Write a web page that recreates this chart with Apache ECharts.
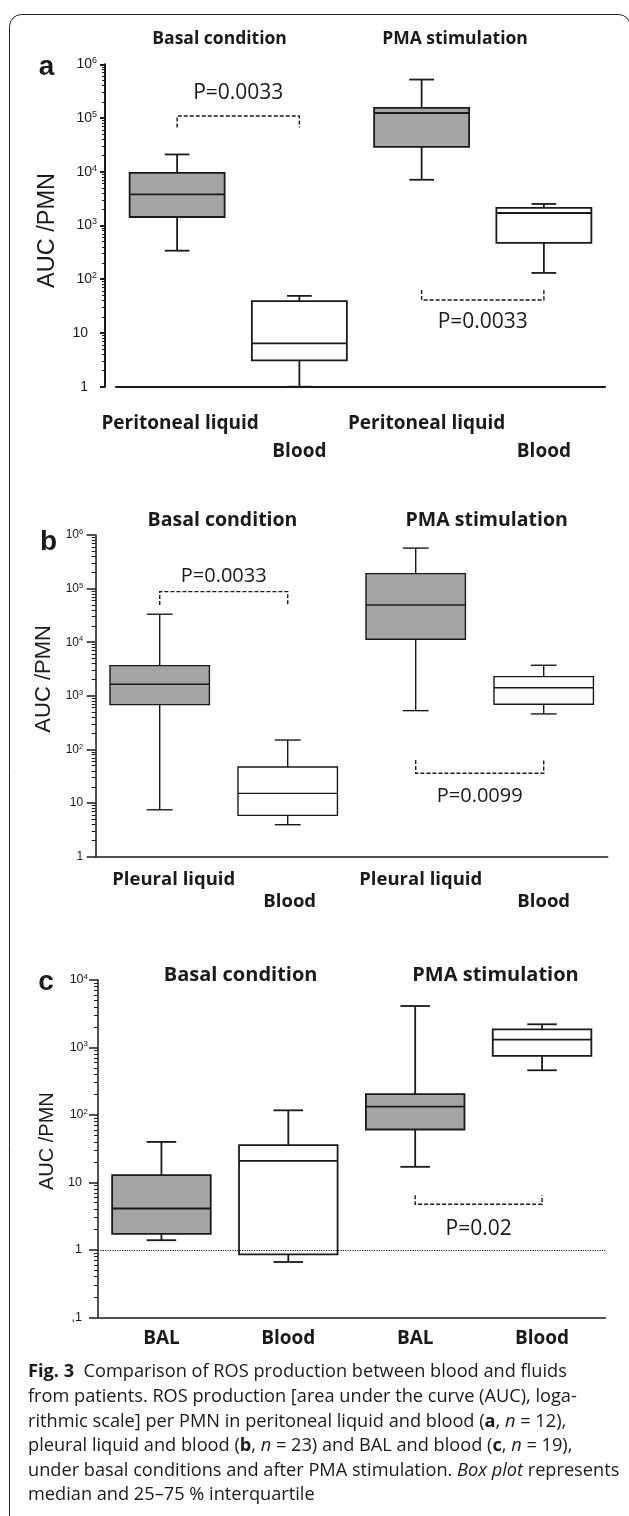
<!DOCTYPE html>
<html>
<head>
<meta charset="utf-8">
<title>ROS production per PMN</title>
<script src="https://cdn.jsdelivr.net/npm/echarts@6/dist/echarts.min.js"></script>
<style>
  html, body { margin: 0; padding: 0; background: #fff; }
  #chart { width: 629px; height: 1516px; }
</style>
</head>
<body>
<div id="chart"></div>
<script>
// categories of each panel
const catsA = ['Peritoneal liquid', 'Blood', 'Peritoneal liquid', 'Blood'];
const catsB = ['Pleural liquid', 'Blood', 'Pleural liquid', 'Blood'];
const catsC = ['BAL', 'Blood', 'BAL', 'Blood'];

// box values: [min, Q1, median, Q3, max]  (AUC / PMN)
const boxesA = [
  [340, 1440, 3800, 9500, 21000],
  [1, 3.1, 6.4, 39, 49],
  [7100, 29000, 124000, 154000, 520000],
  [131, 473, 1710, 2120, 2520]
];
const boxesB = [
  [7.5, 685, 1650, 3660, 33300],
  [3.95, 5.9, 15.2, 47, 150],
  [530, 11400, 49600, 190000, 570000],
  [460, 697, 1420, 2280, 3720]
];
const boxesC = [
  [1.39, 1.73, 4.1, 12.8, 39.8],
  [0.66, 0.855, 20.8, 35.6, 117],
  [17, 60.8, 133, 203, 4120],
  [459, 748, 1309, 1860, 2206]
];
// fluid boxes grey, blood boxes white
const boxFill = ['#a5a5a5', '#ffffff', '#a5a5a5', '#ffffff'];

// significance brackets: [from cat, to cat, bracket level, end level, label level]
const bracketsA = [[0, 1, 1.09e5, 6.7e4, 2.96e5], [2, 3, 41, 63, 16.2]];
const pLabelsA = ['P=0.0033', 'P=0.0033'];
const bracketsB = [[0, 1, 8.8e4, 4.97e4, 1.67e5], [2, 3, 36, 63.7, 13.2]];
const pLabelsB = ['P=0.0033', 'P=0.0099'];
const bracketsC = [[2, 3, 4.75, 6.46, 2.03]];
const pLabelsC = ['P=0.02'];

// y tick labels (log scale)
const yTicksAB = [1, 10, 100, 1000, 10000, 100000, 1000000];
const yTicksC = [0.1, 1, 10, 100, 1000, 10000];

const INK = '#1a1a1a';
const BOX_RATIO = 0.777;

// minor tick positions (log10 of 2..9 in every decade)
function minorTicks(lo, hi) {
  const out = [];
  for (let e = lo; e < hi; e++) {
    for (let k = 2; k < 10; k++) out.push(e + Math.log10(k));
  }
  return out;
}

function tickLabel(v) {
  if (v < 1) return '{p|,1}';
  const e = Math.round(Math.log10(v));
  if (e === 0) return '{p|1}';
  if (e === 1) return '{p|10}';
  return '{b|10}{s|' + e + '}';
}

function tickRich(size, supSize, pad) {
  return {
    p: { fontSize: size, fontFamily: 'Liberation Sans', color: INK, lineHeight: size + 2, padding: [0, pad, 0, 0] },
    b: { fontSize: size, fontFamily: 'Liberation Sans', color: INK, lineHeight: size + 2 },
    s: { fontSize: supSize, fontFamily: 'Liberation Sans', color: INK, lineHeight: supSize + 1, verticalAlign: 'top' }
  };
}

function renderBox(capRatio, lw) {
  return function (params, api) {
    const x = api.value(0);
    const band = api.size([1, 1], [x, 10])[0];
    const bw = band * BOX_RATIO;
    const cw = bw * capRatio;
    const pMin = api.coord([x, api.value(1)]);
    const pQ1 = api.coord([x, api.value(2)]);
    const pMed = api.coord([x, api.value(3)]);
    const pQ3 = api.coord([x, api.value(4)]);
    const pMax = api.coord([x, api.value(5)]);
    const cx = pMed[0];
    const st = { stroke: INK, lineWidth: lw, fill: null };
    return {
      type: 'group',
      children: [
        { type: 'line', shape: { x1: cx, y1: pMax[1], x2: cx, y2: pQ3[1] }, style: st },
        { type: 'line', shape: { x1: cx, y1: pQ1[1], x2: cx, y2: pMin[1] }, style: st },
        { type: 'line', shape: { x1: cx - cw / 2, y1: pMax[1], x2: cx + cw / 2, y2: pMax[1] }, style: st },
        { type: 'line', shape: { x1: cx - cw / 2, y1: pMin[1], x2: cx + cw / 2, y2: pMin[1] }, style: st },
        { type: 'rect', shape: { x: cx - bw / 2, y: pQ3[1], width: bw, height: pQ1[1] - pQ3[1] },
          style: { fill: api.visual('color'), stroke: INK, lineWidth: lw } },
        { type: 'line', shape: { x1: cx - bw / 2, y1: pMed[1], x2: cx + bw / 2, y2: pMed[1] }, style: st }
      ]
    };
  };
}

function renderBracket(labels, fontSize) {
  return function (params, api) {
    const a = api.coord([api.value(0), api.value(2)]);
    const b = api.coord([api.value(1), api.value(2)]);
    const e = api.coord([api.value(0), api.value(3)]);
    const t = api.coord([api.value(0), api.value(4)]);
    return {
      type: 'group',
      children: [
        { type: 'polyline', shape: { points: [[a[0], e[1]], a, b, [b[0], e[1]]] },
          style: { stroke: INK, lineWidth: 1.4, lineDash: [4, 2], fill: null } },
        { type: 'text', x: (a[0] + b[0]) / 2, y: t[1],
          style: { text: labels[params.dataIndex], align: 'center', verticalAlign: 'middle',
                   fontSize: fontSize, fontFamily: 'Open Sans', fill: INK } }
      ]
    };
  };
}

function boxData(boxes) {
  return boxes.map((b, i) => ({ value: [i].concat(b), itemStyle: { color: boxFill[i] } }));
}

function xAxisOf(grid, cats, o) {
  const font = { fontSize: o.fontSize, fontWeight: 'bold', fontFamily: 'Open Sans', color: INK, lineHeight: o.lineHeight };
  const rich = { t: font };
  (o.shift || []).forEach((s, i) => {
    rich['s' + i] = Object.assign({ padding: [0, 0, 0, 2 * s] }, font);
  });
  return {
    type: 'category', gridIndex: grid, data: cats, boundaryGap: true,
    axisLine: { onZero: false, lineStyle: { color: INK, width: o.lw } },
    axisTick: { alignWithLabel: true, length: 4, lineStyle: { color: INK, width: o.lw } },
    axisLabel: {
      interval: 0, margin: o.margin, lineHeight: o.lineHeight,
      fontSize: o.fontSize, fontWeight: 'bold', fontFamily: 'Open Sans', color: INK, rich: rich,
      formatter: (v, i) => {
        const tag = o.shift && o.shift[i] ? 's' + i : 't';
        const s = '{' + tag + '|' + v + '}';
        return o.stagger && i % 2 ? '{t| }\n' + s : s;
      }
    }
  };
}

function yAxesOf(grid, ticks, o) {
  const lo = Math.round(Math.log10(ticks[0]));
  const hi = Math.round(Math.log10(ticks[ticks.length - 1]));
  const main = {
    type: 'log', logBase: 10, gridIndex: grid, position: 'left', offset: o.offset,
    min: ticks[0], max: ticks[ticks.length - 1],
    axisLine: { show: true, lineStyle: { color: INK, width: o.lw } },
    axisTick: { show: true, length: o.tick, customValues: ticks, lineStyle: { color: INK, width: o.lw } },
    axisLabel: { customValues: ticks, margin: o.labelMargin, formatter: tickLabel,
                 rich: tickRich(o.labelSize, o.supSize, o.pad) },
    splitLine: { show: false },
    name: 'AUC /PMN', nameLocation: 'middle', nameGap: o.nameGap,
    nameTextStyle: { fontSize: o.nameSize, fontFamily: 'Liberation Sans', color: INK, padding: o.namePad }
  };
  // companion axis in log10 units, only carries the minor ticks
  const minor = {
    type: 'value', gridIndex: grid, position: 'left', offset: o.offset,
    min: lo, max: hi,
    axisLine: { show: false, onZero: false },
    axisTick: { show: true, length: o.minorTick, customValues: minorTicks(lo, hi),
                lineStyle: { color: INK, width: 1 } },
    axisLabel: { show: false },
    splitLine: { show: false }
  };
  return [main, minor];
}

function txt(text, x, y, size, weight) {
  return {
    type: 'text', x: x, y: y, silent: true,
    style: { text: text, fontSize: size, fontWeight: weight || 'normal', fontFamily: 'Open Sans',
             fill: INK, align: 'center', verticalAlign: 'middle' }
  };
}

function letter(t, x, y) {
  return {
    type: 'text', x: x, y: y, silent: true,
    style: { text: t, fontSize: 28, fontWeight: 'bold', fontFamily: 'Liberation Sans',
             fill: INK, align: 'center', verticalAlign: 'bottom' }
  };
}

const CAP = 18.2;
const capFont = { fontSize: CAP, fontFamily: 'Open Sans', fill: INK };
const capRich = {
  n: { fontSize: CAP, fontFamily: 'Open Sans', color: INK },
  b: { fontSize: CAP, fontFamily: 'Open Sans', fontWeight: 'bold', color: INK },
  i: { fontSize: CAP, fontFamily: 'Open Sans', fontStyle: 'italic', color: INK }
};
const captionLines = [
  '{b|Fig. 3}{n|  Comparison of ROS production between blood and fluids}',
  '{n|from patients. ROS production [area under the curve (AUC), loga-}',
  '{n|rithmic scale] per PMN in peritoneal liquid and blood (}{b|a}{n|, }{i|n}{n| = 12),}',
  '{n|pleural liquid and blood (}{b|b}{n|, }{i|n}{n| = 23) and BAL and blood (}{b|c}{n|, }{i|n}{n| = 19),}',
  '{n|under basal conditions and after PMA stimulation. }{i|Box plot}{n| represents}',
  '{n|median and 25\u201375 % interquartile}'
];
const captionY = [1371.7, 1396.7, 1421.7, 1446.2, 1470.5, 1494.5];

const graphics = [
  { type: 'rect', silent: true, z: -1, shape: { x: 9.5, y: 14.5, width: 621, height: 1600, r: 12 },
    style: { fill: null, stroke: '#222', lineWidth: 1 } },
  letter('a', 46.5, 81), letter('b', 48.5, 556), letter('c', 46, 996),
  txt('Basal condition', 219.6, 39, 17.5, 'bold'),
  txt('PMA stimulation', 455, 39, 17.5, 'bold'),
  txt('Basal condition', 222.5, 520, 19.5, 'bold'),
  txt('PMA stimulation', 486.7, 520, 19.5, 'bold'),
  txt('Basal condition', 240.6, 975, 20, 'bold'),
  txt('PMA stimulation', 495.5, 975, 20, 'bold')
].concat(captionLines.map((l, i) => ({
  type: 'text', x: 28, y: captionY[i], silent: true,
  style: Object.assign({ text: l, rich: capRich, align: 'left', verticalAlign: 'middle' }, capFont)
})));

const chart = echarts.init(document.getElementById('chart'), null, { renderer: 'canvas' });

const option = {
  backgroundColor: '#ffffff',
  animation: false,
  grid: [
    { left: 116, top: 64.3, width: 489, height: 322.4 },
    { left: 95.7, top: 535, width: 512, height: 321.7 },
    { left: 98, top: 980, width: 507.5, height: 337.3 }
  ],
  xAxis: [
    xAxisOf(0, catsA, { lw: 2, margin: 22.6, lineHeight: 28, fontSize: 19, stagger: true, shift: [3, 0, 5, 0] }),
    xAxisOf(1, catsB, { lw: 1.5, margin: 12.3, lineHeight: 22, fontSize: 18.5, stagger: true, shift: [14, 2, 5, 0] }),
    xAxisOf(2, catsC, { lw: 1.5, margin: 10, lineHeight: 22, fontSize: 19, stagger: false })
  ],
  yAxis: []
    .concat(yAxesOf(0, yTicksAB, { offset: 11, lw: 2, tick: 5, minorTick: 3, labelMargin: 8, labelSize: 14,
                                   supSize: 9, pad: 9, nameGap: 45, nameSize: 23.5, namePad: [0, 10, 0, 0] }))
    .concat(yAxesOf(1, yTicksAB, { offset: 0, lw: 1.5, tick: 9, minorTick: 4, labelMargin: 12.5, labelSize: 12,
                                   supSize: 7.5, pad: 0, nameGap: 38, nameSize: 22, namePad: [0, 0, 0, 34] }))
    .concat(yAxesOf(2, yTicksC, { offset: 0, lw: 1.5, tick: 9, minorTick: 4, labelMargin: 10, labelSize: 12.5,
                                  supSize: 8, pad: 6, nameGap: 39, nameSize: 20, namePad: [0, 0, 0, 15] })),
  series: [
    { type: 'custom', xAxisIndex: 0, yAxisIndex: 0, encode: { x: 0, y: [1, 2, 3, 4, 5] },
      renderItem: renderBox(0.26, 1.8), data: boxData(boxesA), z: 2 },
    { type: 'custom', xAxisIndex: 1, yAxisIndex: 2, encode: { x: 0, y: [1, 2, 3, 4, 5] },
      renderItem: renderBox(0.26, 1.4), data: boxData(boxesB), z: 2 },
    { type: 'custom', xAxisIndex: 2, yAxisIndex: 4, encode: { x: 0, y: [1, 2, 3, 4, 5] },
      renderItem: renderBox(0.30, 1.8), data: boxData(boxesC), z: 2 },
    { type: 'custom', xAxisIndex: 0, yAxisIndex: 0, encode: { x: [0, 1], y: [2, 3, 4] },
      renderItem: renderBracket(pLabelsA, 21), data: bracketsA, z: 3 },
    { type: 'custom', xAxisIndex: 1, yAxisIndex: 2, encode: { x: [0, 1], y: [2, 3, 4] },
      renderItem: renderBracket(pLabelsB, 20), data: bracketsB, z: 3 },
    { type: 'custom', xAxisIndex: 2, yAxisIndex: 4, encode: { x: [0, 1], y: [2, 3, 4] },
      renderItem: renderBracket(pLabelsC, 21), data: bracketsC, z: 3 },
    { type: 'line', xAxisIndex: 2, yAxisIndex: 4, data: [], z: 10,
      markLine: { silent: true, symbol: 'none', label: { show: false },
                  lineStyle: { type: 'dotted', color: INK, width: 1.2 }, data: [{ yAxis: 1 }] } }
  ],
  graphic: { elements: graphics }
};

chart.setOption(option);
</script>
</body>
</html>
